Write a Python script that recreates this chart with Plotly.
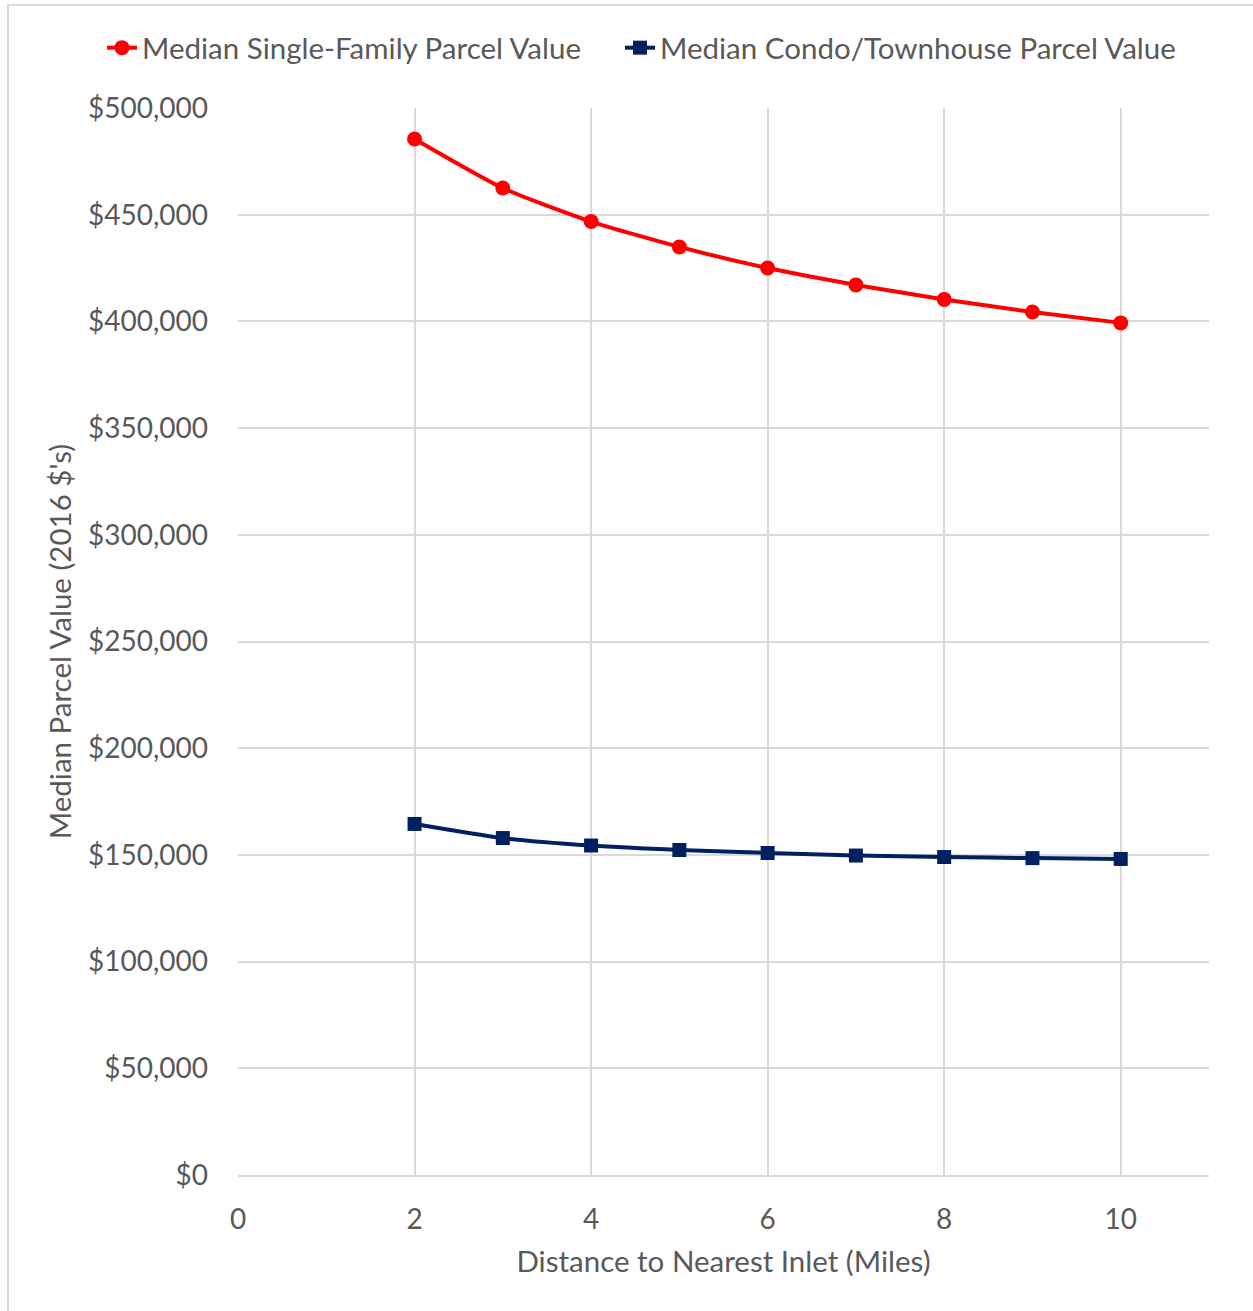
import plotly.graph_objects as go

# Distance to nearest inlet (miles)
distance = [2, 3, 4, 5, 6, 7, 8, 9, 10]

# Median parcel values in 2016 dollars
single_family = [485500, 462500, 446800, 434900, 425000, 417100, 410300, 404400, 399300]
condo_townhouse = [164500, 157900, 154400, 152300, 150900, 149700, 149000, 148500, 148100]

x_ticks = [0, 2, 4, 6, 8, 10]
y_ticks = [0, 50000, 100000, 150000, 200000, 250000, 300000, 350000, 400000, 450000, 500000]
y_tick_labels = ["${:,.0f}".format(v) for v in y_ticks]

W, H = 1253, 1311
L, R, T, B = 238, 44, 108, 136
pw, ph = W - L - R, H - T - B

FONT = "Lato"
TXT = "#595959"
GRID = "#d9d9d9"
LABEL_SIZE = 29.5
TICK_SIZE = 28

fig = go.Figure()
fig.add_trace(go.Scatter(
    x=distance, y=single_family, name="Median Single-Family Parcel Value",
    mode="lines+markers", line=dict(color="#ff0000", width=4, shape="spline", smoothing=0.6),
    marker=dict(symbol="circle", size=15, color="#ff0000"),
    legend="legend", showlegend=True,
))
fig.add_trace(go.Scatter(
    x=distance, y=condo_townhouse, name="Median Condo/Townhouse Parcel Value",
    mode="lines+markers", line=dict(color="#002060", width=4, shape="spline", smoothing=0.6),
    marker=dict(symbol="square", size=14, color="#002060"),
    legend="legend2", showlegend=True,
))

# light frame around the chart area
fig.add_shape(type="rect", xref="paper", yref="paper",
              x0=(8 - L) / pw, x1=(W + 20 - L) / pw,
              y0=-(H + 20 - T - ph) / ph, y1=1 + (T - 5) / ph,
              line=dict(color=GRID, width=2), fillcolor="rgba(0,0,0,0)", layer="below")

legend_common = dict(orientation="h", xref="container", yref="container",
                     xanchor="left", y=(H - 48) / H, yanchor="middle",
                     font=dict(size=LABEL_SIZE, color=TXT), bgcolor="rgba(0,0,0,0)")

fig.update_layout(
    width=W, height=H, showlegend=True,
    margin=dict(l=L, r=R, t=T, b=B, autoexpand=False),
    paper_bgcolor="white", plot_bgcolor="white",
    font=dict(family=FONT, color=TXT, size=LABEL_SIZE),
    legend=dict(x=102 / W, **legend_common),
    legend2=dict(x=620 / W, **legend_common),
    xaxis=dict(range=[0, 11], tickvals=x_ticks, showgrid=True, gridcolor=GRID, gridwidth=2,
               zeroline=False, showline=True, linecolor=GRID, linewidth=2,
               ticks="", ticklabelstandoff=18, tickfont=dict(size=TICK_SIZE, color=TXT),
               title=dict(text="Distance to Nearest Inlet (Miles)", standoff=18,
                          font=dict(size=LABEL_SIZE, color=TXT))),
    yaxis=dict(range=[0, 500000], tickvals=y_ticks, ticktext=y_tick_labels,
               showgrid=True, gridcolor=GRID, gridwidth=2, zeroline=False, showline=False,
               ticks="", ticklabelstandoff=29, tickfont=dict(size=TICK_SIZE, color=TXT),
               title=dict(text="Median Parcel Value (2016 $'s)", standoff=7,
                          font=dict(size=LABEL_SIZE, color=TXT))),
)

fig.write_html("out.html")
